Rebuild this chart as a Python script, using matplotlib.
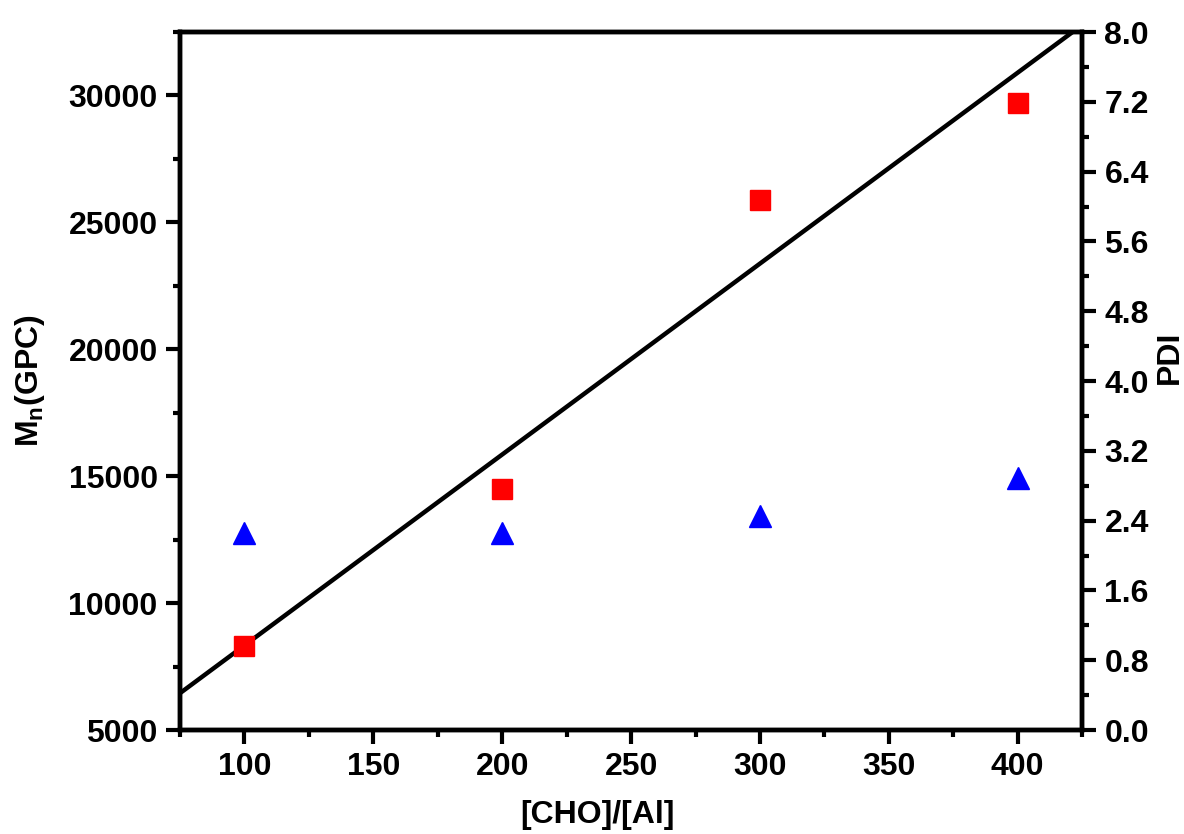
import numpy as np
import matplotlib
matplotlib.use("Agg")
import matplotlib.pyplot as plt
from matplotlib.ticker import MultipleLocator

plt.rcParams['font.family'] = ['Liberation Sans', 'DejaVu Sans']
plt.rcParams['font.weight'] = 'bold'
plt.rcParams['mathtext.default'] = 'regular'

ratio = [100, 200, 300, 400]
mn_gpc = [8300, 14500, 25900, 29700]
pdi = [2.26, 2.26, 2.45, 2.89]
# theoretical Mn line end points
line_x = [75, 425]
line_y = [6450, 32780]

fig = plt.figure(figsize=(11.84, 8.34), dpi=100)
ax = fig.add_axes([0.152, 0.1247, 0.762, 0.8369])
ax2 = ax.twinx()

ax.plot(line_x, line_y, color='black', lw=3.2, zorder=2)
ax.plot(ratio, mn_gpc, 's', color='red', ms=14.4, zorder=3)
ax2.plot(ratio, pdi, '^', color='blue', ms=15.5, zorder=3)

ax.set_xlim(75, 425)
ax.set_ylim(5000, 32500)
ax2.set_ylim(0, 8.0)

ax.xaxis.set_major_locator(MultipleLocator(50))
ax.xaxis.set_minor_locator(MultipleLocator(25))
ax.yaxis.set_major_locator(MultipleLocator(5000))
ax.yaxis.set_minor_locator(MultipleLocator(2500))
ax2.yaxis.set_major_locator(MultipleLocator(0.8))
ax2.yaxis.set_minor_locator(MultipleLocator(0.4))
ax2.yaxis.set_major_formatter(plt.FormatStrFormatter('%.1f'))

for a in (ax, ax2):
    for s in a.spines.values():
        s.set_linewidth(3.2)
    a.tick_params(which='major', length=10, width=3, direction='out', labelsize=23, pad=6)
    a.tick_params(which='minor', length=5, width=3, direction='out')

ax.tick_params(axis='y', which='both', right=False)
ax.tick_params(axis='x', which='both', top=False)

ax.set_xlabel('[CHO]/[Al]', fontsize=23, fontweight='bold')
ax.xaxis.set_label_coords(0.463, -0.10)
ax.set_ylabel(r'M$_n$(GPC)', fontsize=23, fontweight='bold')
ax.yaxis.set_label_coords(-0.147, 0.5)
ax2.set_ylabel('PDI', fontsize=23, fontweight='bold')
ax2.yaxis.set_label_coords(1.081, 0.534)

fig.savefig('out.png', dpi=100)
